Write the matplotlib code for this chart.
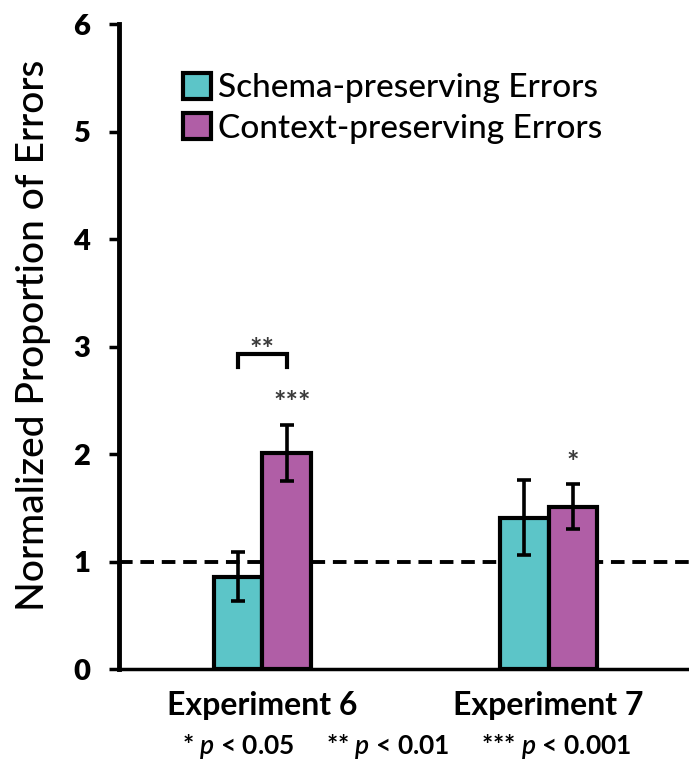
import numpy as np
import matplotlib
matplotlib.use("Agg")
import matplotlib.pyplot as plt

plt.rcParams['font.family'] = ['Lato', 'DejaVu Sans']
plt.rcParams['mathtext.fontset'] = 'custom'
plt.rcParams['mathtext.rm'] = 'Lato:semibold'
plt.rcParams['mathtext.it'] = 'Lato:italic:semibold'

# data
experiments = ["Experiment 6", "Experiment 7"]
series_names = ["Schema-preserving Errors", "Context-preserving Errors"]
schema_vals = [0.86, 1.41]
schema_err = [0.23, 0.35]
context_vals = [2.01, 1.51]
context_err = [0.26, 0.21]
y_ticks = [0, 1, 2, 3, 4, 5, 6]

teal = "#5CC5C8"
magenta = "#B05EA6"

fig = plt.figure(figsize=(6.89, 7.79), dpi=100)
ax = fig.add_axes([0.173, 0.141, 0.827, 0.828])

x = np.arange(len(experiments))
w = 0.17

ax.axhline(1, color="black", lw=2.8, ls=(0, (3.5, 2)), zorder=1)

err_kw = dict(ecolor="black", elinewidth=2.6, capsize=5, capthick=2.6)
ax.bar(x - w / 2, schema_vals, w, yerr=schema_err, color=teal,
       edgecolor="black", linewidth=3, label=series_names[0],
       error_kw=err_kw, zorder=2)
ax.bar(x + w / 2, context_vals, w, yerr=context_err, color=magenta,
       edgecolor="black", linewidth=3, label=series_names[1],
       error_kw=err_kw, zorder=2)

# significance marks
ax.plot([-w / 2, -w / 2, w / 2, w / 2], [2.81, 2.93, 2.93, 2.81],
        color="black", lw=3, solid_joinstyle="miter", zorder=3)
star_kw = dict(ha="center", va="baseline", fontsize=21, fontweight="bold",
               color="#3a3a3a")
ax.text(0, 2.89, "**", **star_kw)
ax.text(w / 2 + 0.02, 2.40, "***", **star_kw)
ax.text(1 + w / 2, 1.84, "*", **star_kw)

ax.set_xlim(-0.5, 1.49)
ax.set_ylim(0, 6)
ax.set_yticks(y_ticks)
ax.set_yticklabels([str(t) for t in y_ticks], fontsize=21, fontweight="heavy")
ax.set_xticks(x)
ax.set_xticklabels(experiments, fontsize=23, fontweight="bold")
ax.tick_params(axis="x", length=0, pad=16)
ax.tick_params(axis="y", length=7, width=2.5, pad=14)

ax.spines["top"].set_visible(False)
ax.spines["right"].set_visible(False)
ax.spines["left"].set_linewidth(3.5)
ax.spines["bottom"].set_linewidth(2.5)
ax.spines["left"].set_zorder(4)

fig.text(0.049, 0.57, "Normalized Proportion of Errors", rotation=90,
         ha="center", va="center", fontsize=28, fontweight="medium")

leg = ax.legend(loc="upper left", bbox_to_anchor=(0.112, 0.925),
                frameon=False, borderpad=0, borderaxespad=0,
                prop={"size": 24, "weight": "medium"},
                handlelength=0.85, handleheight=0.85,
                handletextpad=0.2, labelspacing=0.28)

fig.text(0.59, 0.042,
         r"* $p$ < 0.05     ** $p$ < 0.01     *** $p$ < 0.001",
         ha="center", va="center", fontsize=19, fontweight="bold")

fig.savefig("out.png", dpi=100)
